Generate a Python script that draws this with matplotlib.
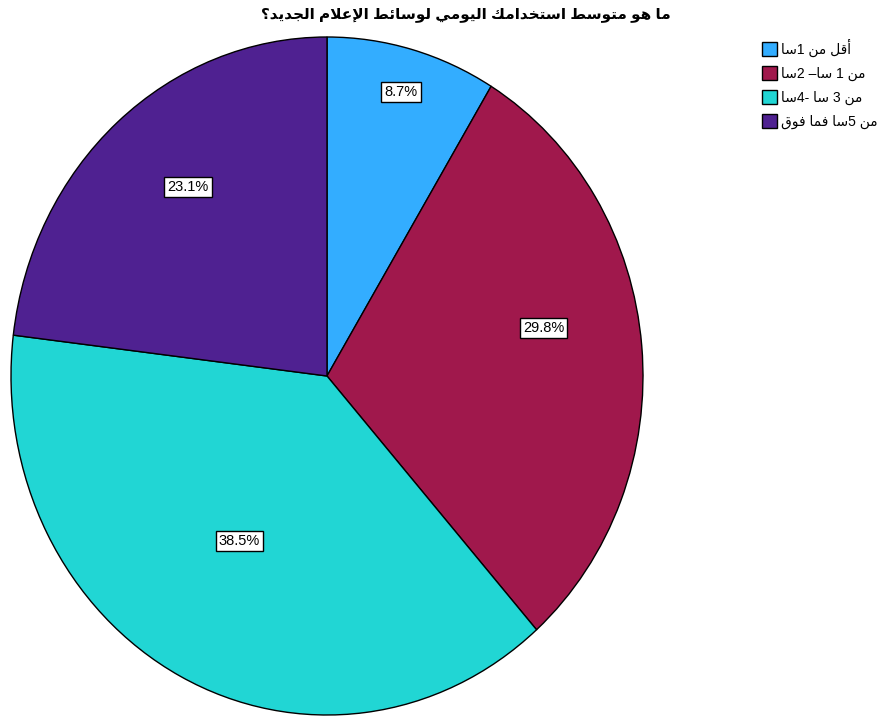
import re
import matplotlib
matplotlib.use("Agg")
from matplotlib import pyplot as plt
import numpy as np

title = "ما هو متوسط استخدامك اليومي لوسائط الإعلام الجديد؟"
categories = ["أقل من 1سا", "من 1 سا– 2سا", "من 3 سا -4سا", "من 5سا فما فوق"]
percents = [8.7, 29.8, 38.5, 23.1]
colours = ["#33adff", "#a0184c", "#21d6d4", "#4f2191"]
# where each percent box sits: radius fraction, clockwise nudge in degrees
label_dist = [0.87, 0.70, 0.56, 0.71]
label_shift = [0.0, -6.5, 2.0, 3.2]

# matplotlib does no arabic shaping, so pick presentation forms by hand
# (isolated, final, initial, medial)
FORMS = {
    "ا": (0xFE8D, 0xFE8E, None, None),
    "أ": (0xFE83, 0xFE84, None, None),
    "إ": (0xFE87, 0xFE88, None, None),
    "ب": (0xFE8F, 0xFE90, 0xFE91, 0xFE92),
    "ت": (0xFE95, 0xFE96, 0xFE97, 0xFE98),
    "ج": (0xFE9D, 0xFE9E, 0xFE9F, 0xFEA0),
    "خ": (0xFEA5, 0xFEA6, 0xFEA7, 0xFEA8),
    "د": (0xFEA9, 0xFEAA, None, None),
    "س": (0xFEB1, 0xFEB2, 0xFEB3, 0xFEB4),
    "ط": (0xFEC1, 0xFEC2, 0xFEC3, 0xFEC4),
    "ع": (0xFEC9, 0xFECA, 0xFECB, 0xFECC),
    "ف": (0xFED1, 0xFED2, 0xFED3, 0xFED4),
    "ق": (0xFED5, 0xFED6, 0xFED7, 0xFED8),
    "ك": (0xFED9, 0xFEDA, 0xFEDB, 0xFEDC),
    "ل": (0xFEDD, 0xFEDE, 0xFEDF, 0xFEE0),
    "م": (0xFEE1, 0xFEE2, 0xFEE3, 0xFEE4),
    "ن": (0xFEE5, 0xFEE6, 0xFEE7, 0xFEE8),
    "ه": (0xFEE9, 0xFEEA, 0xFEEB, 0xFEEC),
    "و": (0xFEED, 0xFEEE, None, None),
    "ي": (0xFEF1, 0xFEF2, 0xFEF3, 0xFEF4),
    "ئ": (0xFE89, 0xFE8A, 0xFE8B, 0xFE8C),
}
LAM_ALEF = {"ا": (0xFEFB, 0xFEFC), "أ": (0xFEF7, 0xFEF8), "إ": (0xFEF9, 0xFEFA)}


def shape_run(run):
    toks = []
    i = 0
    while i < len(run):
        if run[i] == "ل" and i + 1 < len(run) and run[i + 1] in LAM_ALEF:
            iso, fin = LAM_ALEF[run[i + 1]]
            toks.append((iso, fin, None, None))
            i += 2
        else:
            toks.append(FORMS[run[i]])
            i += 1
    out = []
    for k, f in enumerate(toks):
        prev = k > 0 and toks[k - 1][2] is not None
        nxt = k < len(toks) - 1 and f[2] is not None
        if prev and nxt:
            c = f[3]
        elif prev:
            c = f[1]
        elif nxt:
            c = f[2]
        else:
            c = f[0]
        out.append(chr(c))
    return "".join(reversed(out))


def rtl(text):
    letters = "".join(FORMS)
    parts = re.findall("[" + letters + "]+|[0-9]+|.", text)
    vis = []
    for p in reversed(parts):
        if p[0] in FORMS:
            vis.append(shape_run(p))
        else:
            vis.append(p)
    return "".join(vis)


fam = ["Liberation Sans", "DejaVu Sans"]
fig = plt.figure(figsize=(8.8, 7.17), dpi=100)
ax = fig.add_axes([11 / 880, 2 / 717, 632 / 880, 678 / 717])

wedges, _ = ax.pie(percents, colors=colours, startangle=90, counterclock=False,
                   wedgeprops=dict(edgecolor="black", linewidth=1))
ax.set_aspect("auto")
ax.set_xlim(-1, 1)
ax.set_ylim(-1, 1)
ax.axis("off")

for w, p, d, s in zip(wedges, percents, label_dist, label_shift):
    ang = np.deg2rad((w.theta1 + w.theta2) / 2 - s)
    ax.text(d * np.cos(ang), d * np.sin(ang), f"{p}%", ha="center", va="center",
            fontsize=10.5, family=fam,
            bbox=dict(boxstyle="square,pad=0.22", fc="white", ec="black", lw=1))

fig.text(466 / 880, 1 - 15 / 717, rtl(title), ha="center", va="center",
         fontsize=11, fontweight="bold", family=fam)

fig.legend(wedges, [rtl(c) for c in categories], loc="upper left",
           bbox_to_anchor=(756 / 880, 1 - 33 / 717), frameon=False,
           prop=dict(family=fam, size=10), handlelength=1.1, handleheight=1.2,
           labelspacing=0.65, handletextpad=0.3, borderaxespad=0)

fig.savefig("out.png", dpi=100)
